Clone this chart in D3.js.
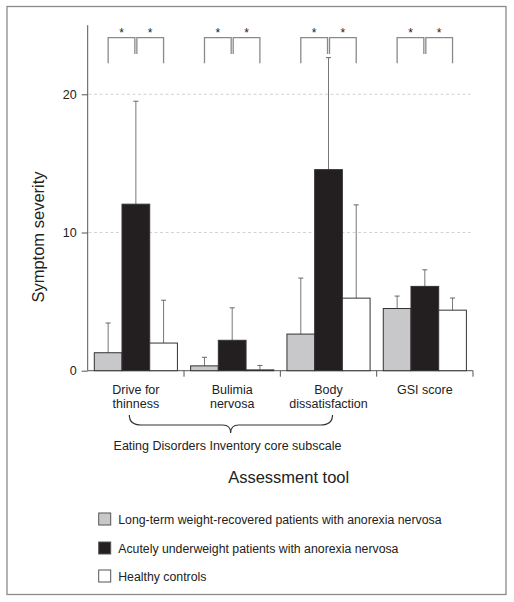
<!DOCTYPE html>
<html>
<head>
<meta charset="utf-8">
<script src="https://cdn.jsdelivr.net/npm/d3@7"></script>
<style>
  body { margin: 0; background: #fff; }
  svg { display: block; font-family: "Liberation Sans", Arial, Helvetica, sans-serif; }
</style>
</head>
<body>
<svg id="chart" width="514" height="602"></svg>
<script>
// ---- data ----
const categories = [["Drive for", "thinness"], ["Bulimia", "nervosa"], ["Body", "dissatisfaction"], ["GSI score"]];
const categoryKeys = ["Drive for thinness", "Bulimia nervosa", "Body dissatisfaction", "GSI score"];
const seriesNames = [
  "Long-term weight-recovered patients with anorexia nervosa",
  "Acutely underweight patients with anorexia nervosa",
  "Healthy controls"
];
const recoveredMean = [1.3, 0.35, 2.65, 4.5];
const recoveredSD   = [2.15, 0.62, 4.05, 0.9];
const acuteMean     = [12.05, 2.2, 14.55, 6.1];
const acuteSD       = [7.45, 2.35, 8.1, 1.2];
const controlMean   = [2.0, 0.06, 5.25, 4.38];
const controlSD     = [3.1, 0.32, 6.75, 0.88];
const yTicks = [0, 10, 20];
const yGrid = [10, 20];
const seriesFill = ["#c8c8ca", "#231f20", "#ffffff"];

const means = [recoveredMean, acuteMean, controlMean];
const sds = [recoveredSD, acuteSD, controlSD];

const svg = d3.select("#chart");

// frame
svg.append("rect").attr("x", 7).attr("y", 6.5).attr("width", 499).attr("height", 588)
  .attr("fill", "none").attr("stroke", "#8a8a8a").attr("stroke-width", 1.3);

const x0 = d3.scaleBand().domain(categoryKeys).range([87.7, 473]).paddingInner(0).paddingOuter(0);
const x1 = d3.scaleBand().domain(d3.range(3)).range([6.6, x0.bandwidth() - 6.6]).padding(0);
const y = d3.scaleLinear().domain([0, 25]).range([370.7, 25.2]);

const axisColor = "#555";

// gridlines
svg.append("g").selectAll("line").data(yGrid).join("line")
  .attr("x1", 88.5).attr("x2", 470.7)
  .attr("y1", d => y(d)).attr("y2", d => y(d))
  .attr("stroke", "#c8c8c8").attr("stroke-width", 0.8).attr("stroke-dasharray", "3,2.5");

// y axis
const yAxis = d3.axisLeft(y).tickValues(yTicks).tickSize(6).tickPadding(5).tickFormat(d3.format("d"));
const gy = svg.append("g").attr("transform", "translate(87.7,0)").call(yAxis);
gy.select(".domain").attr("stroke", axisColor).attr("d", `M0,${y(25)}V${y(0)}`);
gy.selectAll(".tick line").attr("stroke", axisColor);
gy.selectAll(".tick text").attr("font-size", 12.5).attr("fill", "#222")
  .attr("font-family", "Liberation Sans, Arial, sans-serif");

// x axis
const xBoundaries = categoryKeys.map(k => x0(k) + x0.bandwidth());
const gx = svg.append("g");
gx.append("line").attr("x1", 87.7).attr("x2", 473).attr("y1", y(0)).attr("y2", y(0))
  .attr("stroke", axisColor).attr("stroke-width", 1);
gx.selectAll("line.tk").data(xBoundaries).join("line").attr("class", "tk")
  .attr("x1", d => d).attr("x2", d => d).attr("y1", y(0)).attr("y2", y(0) + 6)
  .attr("stroke", axisColor);

// bars
const groups = svg.append("g").selectAll("g").data(categoryKeys).join("g")
  .attr("transform", k => `translate(${x0(k)},0)`);

groups.each(function(k, ci) {
  const g = d3.select(this);
  for (let s = 0; s < 3; s++) {
    const m = means[s][ci], sd = sds[s][ci];
    const cx = x1(s) + x1.bandwidth() / 2;
    // error bar
    g.append("line").attr("x1", cx).attr("x2", cx).attr("y1", y(m)).attr("y2", y(m + sd))
      .attr("stroke", "#777").attr("stroke-width", 1);
    g.append("line").attr("x1", cx - 2.5).attr("x2", cx + 2.5).attr("y1", y(m + sd)).attr("y2", y(m + sd))
      .attr("stroke", "#666").attr("stroke-width", 1);
  }
  for (let s = 0; s < 3; s++) {
    const m = means[s][ci];
    g.append("rect").attr("x", x1(s)).attr("width", x1.bandwidth())
      .attr("y", y(m)).attr("height", y(0) - y(m))
      .attr("fill", seriesFill[s]).attr("stroke", "#333").attr("stroke-width", 1);
  }
  // significance brackets
  const c = d3.range(3).map(s => x1(s) + x1.bandwidth() / 2);
  const topY = 37.7, outerY = 63.3, innerY = 54;
  const gap = 1.0;
  const br = g.append("g").attr("fill", "none").attr("stroke", "#8a8a8a").attr("stroke-width", 1.3);
  br.append("path").attr("d", `M${c[0]},${outerY}V${topY}H${c[1] - gap}V${innerY}`);
  br.append("path").attr("d", `M${c[1] + gap},${innerY}V${topY}H${c[2]}V${outerY}`);
  [(c[0] + c[1] - gap) / 2, (c[1] + gap + c[2]) / 2].forEach(sx => {
    g.append("text").attr("x", sx).attr("y", 36.5).attr("text-anchor", "middle")
      .attr("font-size", 12).attr("fill", "#222").text("*");
  });
});

// category labels
const labels = svg.append("g").selectAll("text").data(categories).join("text")
  .attr("x", (d, i) => x0(categoryKeys[i]) + x0.bandwidth() / 2)
  .attr("y", 393.5).attr("text-anchor", "middle").attr("font-size", 12.5).attr("fill", "#222");
labels.each(function(d) {
  const t = d3.select(this);
  d.forEach((line, j) => t.append("tspan").attr("x", t.attr("x")).attr("dy", j === 0 ? 0 : 14).text(line));
});

// brace under first three categories
const bx1 = 129.3, bx2 = 332.5, btop = 415, bmid = 425, btip = 433;
const bcx = x0(categoryKeys[1]) + x0.bandwidth() / 2 - 1.5;
svg.append("path")
  .attr("d", `M${bx1},${btop} Q${bx1},${bmid} ${bx1 + 12},${bmid} L${bcx - 8},${bmid} Q${bcx},${bmid} ${bcx},${btip}` +
             ` Q${bcx},${bmid} ${bcx + 8},${bmid} L${bx2 - 12},${bmid} Q${bx2},${bmid} ${bx2},${btop}`)
  .attr("fill", "none").attr("stroke", "#333").attr("stroke-width", 1.2);

svg.append("text").attr("x", 227.5).attr("y", 449.5).attr("text-anchor", "middle")
  .attr("font-size", 12.5).attr("fill", "#222").text("Eating Disorders Inventory core subscale");

// axis titles
svg.append("text").attr("x", 288.7).attr("y", 483).attr("text-anchor", "middle")
  .attr("font-size", 16.5).attr("fill", "#222").text("Assessment tool");
svg.append("text").attr("transform", "translate(44,237) rotate(-90)").attr("text-anchor", "middle")
  .attr("font-size", 16.5).attr("fill", "#222").text("Symptom severity");

// legend
const legY = [519, 548, 576];
const leg = svg.append("g").selectAll("g").data(seriesNames).join("g")
  .attr("transform", (d, i) => `translate(98.7,${legY[i]})`);
leg.append("rect").attr("x", 0).attr("y", -6).attr("width", 12).attr("height", 12)
  .attr("fill", (d, i) => seriesFill[i]).attr("stroke", "#555").attr("stroke-width", 1);
leg.append("text").attr("x", 19.5).attr("y", 4.5).attr("font-size", 12.3).attr("fill", "#222").text(d => d);
</script>
</body>
</html>
